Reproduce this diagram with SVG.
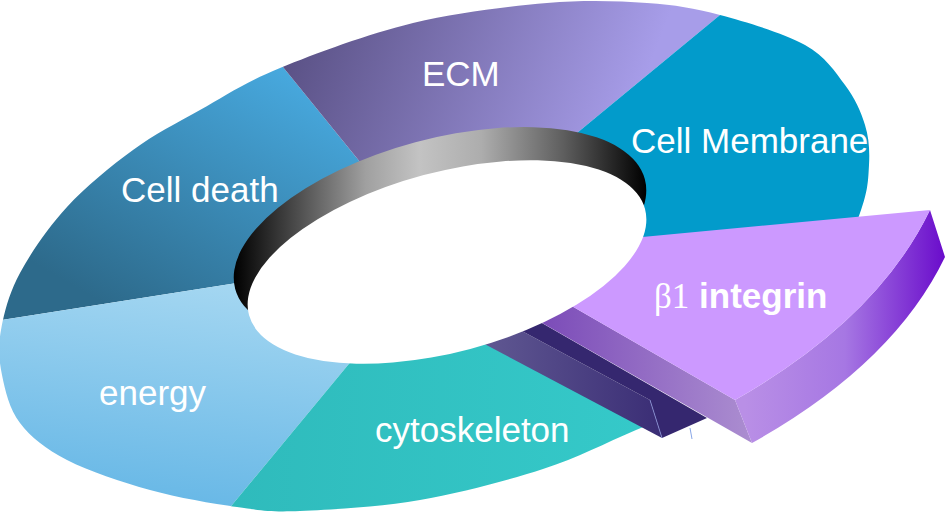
<svg xmlns="http://www.w3.org/2000/svg" xmlns:xlink="http://www.w3.org/1999/xlink" width="946" height="512" viewBox="0 0 946 512">
<style>
.lbl{font-family:"Liberation Sans",Arial,sans-serif;font-size:35px;fill:#ffffff}
.b{font-weight:bold}
.serif{font-family:"Liberation Serif","Times New Roman",serif;font-weight:normal}
</style>
<defs>
<path id="outer" d="M1,330 C4,313 9,293.5 20,273 C31,252.5 48.2,227.5 67,207 C85.8,186.5 110.8,166.2 133,150 C155.2,133.8 175.5,123.7 200,110 C224.5,96.3 244.5,82.5 280,68 C315.5,53.5 368.5,33.8 413,23 C457.5,12.2 508,6.3 547,3 C586,-0.3 618.2,1 647,3 C675.8,5 693.7,8 720,15 C746.3,22 784.2,33.3 805,45 C825.8,56.7 835,71.7 845,85 C855,98.3 861,111.7 865,125 C869,138.3 869.8,150.3 869,165 C868.2,179.7 868.2,190.5 860,213 C851.8,235.5 840,271.3 820,300 C800,328.7 770.7,363.3 740,385 C709.3,406.7 668.8,416 636,430 C603.2,444 579,457.3 543,469 C507,480.7 460.5,493 420,500 C379.5,507 330.5,509.8 300,511 C269.5,512.2 262,510.5 237,507 C212,503.5 178.3,497.8 150,490 C121.7,482.2 88.7,471.2 67,460 C45.3,448.8 30.8,437.2 20,423 C9.2,408.8 5.2,390.5 2,375 C-1.2,359.5 -2,347 1,330 Z"/>
<clipPath id="c-ecm"><polygon points="445,255 360,162 129,-123 1006,-221 577,133"/></clipPath>
<clipPath id="c-cd"><polygon points="445,255 360,162 129,-123 -400,-150 -233,357 237,283"/></clipPath>
<clipPath id="c-en"><polygon points="445,255 237,283 -233,357 -233,700 116,645 348,365"/></clipPath>
<clipPath id="c-cy"><polygon points="445,255 348,365 116,645 1100,700 1020,623 483,338"/></clipPath>
<clipPath id="c-cm"><polygon points="445,255 577,133 1006,-221 1100,-221 1100,207 640,247"/></clipPath>
<linearGradient id="g-cd" gradientUnits="userSpaceOnUse" x1="300" y1="70" x2="150" y2="330"><stop offset="0" stop-color="#48aae0"/><stop offset="1" stop-color="#2d6a8b"/></linearGradient>
<linearGradient id="g-ecm" gradientUnits="userSpaceOnUse" x1="285" y1="45" x2="610" y2="170"><stop offset="0" stop-color="#595084"/><stop offset="1" stop-color="#a79de9"/></linearGradient>
<linearGradient id="g-en" gradientUnits="userSpaceOnUse" x1="200" y1="285" x2="170" y2="510"><stop offset="0" stop-color="#a3d6f1"/><stop offset="1" stop-color="#66b7e6"/></linearGradient>
<linearGradient id="g-cy" gradientUnits="userSpaceOnUse" x1="240" y1="400" x2="640" y2="420"><stop offset="0" stop-color="#2fbbbc"/><stop offset="1" stop-color="#35c9c9"/></linearGradient>
<linearGradient id="g-wall" gradientUnits="userSpaceOnUse" x1="234" y1="0" x2="646" y2="0"><stop offset="0" stop-color="#000000"/><stop offset="0.18" stop-color="#5a5a5a"/><stop offset="0.32" stop-color="#a0a0a0"/><stop offset="0.45" stop-color="#c3c3c3"/><stop offset="0.6" stop-color="#adadad"/><stop offset="0.8" stop-color="#5e5e5e"/><stop offset="1" stop-color="#000000"/></linearGradient>
<linearGradient id="g-rface" gradientUnits="userSpaceOnUse" x1="745" y1="0" x2="945" y2="0"><stop offset="0" stop-color="#b98fe6"/><stop offset="0.5" stop-color="#a677e3"/><stop offset="1" stop-color="#6a0ccb"/></linearGradient>
<linearGradient id="g-band" gradientUnits="userSpaceOnUse" x1="540" y1="0" x2="750" y2="0"><stop offset="0" stop-color="#7b4bb8"/><stop offset="1" stop-color="#ab8dd0"/></linearGradient>
<linearGradient id="g-face" gradientUnits="userSpaceOnUse" x1="483" y1="0" x2="662" y2="0"><stop offset="0" stop-color="#605892"/><stop offset="1" stop-color="#3a2d75"/></linearGradient>
</defs>

<g id="cell-death">
<use xlink:href="#outer" href="#outer" fill="url(#g-cd)" clip-path="url(#c-cd)"/>
</g>
<g id="ecm">
<use xlink:href="#outer" href="#outer" fill="url(#g-ecm)" clip-path="url(#c-ecm)"/>
</g>
<g id="cell-membrane">
<use xlink:href="#outer" href="#outer" fill="#029bcb" clip-path="url(#c-cm)"/>
</g>
<g id="energy">
<use xlink:href="#outer" href="#outer" fill="url(#g-en)" clip-path="url(#c-en)"/>
</g>
<g id="cytoskeleton">
<use xlink:href="#outer" href="#outer" fill="url(#g-cy)" clip-path="url(#c-cy)"/>
</g>

<g id="beta1-integrin">
<path d="M480,308.5 L650,400 L662,438 L443,322 Z" fill="url(#g-face)"/>
<path d="M500,299 L707,418 L662,438 L650,400 L480,308.5 Z" fill="#35276f"/>
<line x1="650" y1="400" x2="662" y2="438" stroke="#8a94d8" stroke-width="0.8"/>
<line x1="690" y1="428" x2="692" y2="439" stroke="#6a8fe0" stroke-width="0.8"/>
<path d="M530,282 L735,400 L752,443 L500,299 Z" fill="url(#g-band)"/>
<path d="M930,210 L945,257 Q893.5,364 752,443 L735,400 Q877.5,319 930,210 Z" fill="url(#g-rface)"/>
<path d="M600,241 L930,210 Q877.5,319 735,400 L530,282 Z" fill="#cc99ff"/>
</g>

<g id="hole">
<path d="M644.8,179.1 A212,95 -15 1,0 235.2,288.9 A212,95 -15 1,0 644.8,179.1 Z" fill="url(#g-wall)"/>
<ellipse cx="447" cy="262" rx="205" ry="90" transform="rotate(-15 447 262)" fill="#ffffff"/>
</g>

<g id="labels">
<text class="lbl" x="422" y="86">ECM</text>
<text class="lbl" x="121" y="202">Cell death</text>
<text class="lbl" x="631" y="153">Cell Membrane</text>
<text class="lbl" x="99" y="405">energy</text>
<text class="lbl" x="375" y="442">cytoskeleton</text>
<text class="lbl b" x="654" y="308"><tspan class="serif">β1</tspan> integrin</text>
</g>
<g id="connectors"/>
</svg>
